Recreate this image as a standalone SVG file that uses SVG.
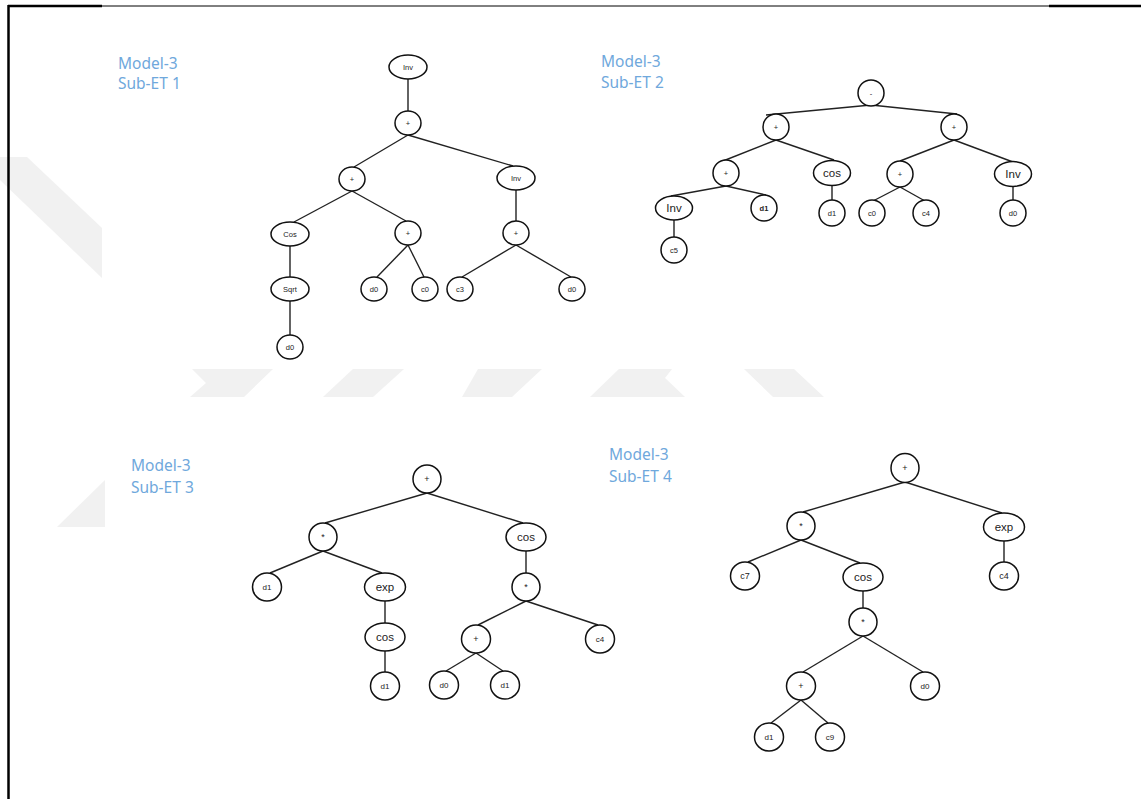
<svg xmlns="http://www.w3.org/2000/svg" width="1141" height="799" viewBox="0 0 1141 799">
<style>
.n{fill:#fff;stroke:#111;stroke-width:1.5}
.e{stroke:#222;stroke-width:1.4;fill:none}
.t{font-family:"Liberation Sans",Arial,sans-serif;fill:#222;text-anchor:middle;dominant-baseline:central}
.s7{font-size:7.5px}.s8{font-size:8px}.s9{font-size:9px}.s11{font-size:11.5px}
.lab{font-family:"Noto Sans","Open Sans",sans-serif;font-size:15.5px;fill:#6fa8dc}
.wm{fill:#f1f1f1}
</style>
<rect width="1141" height="799" fill="#fff"/>
<g id="watermark">
<polygon class="wm" points="0,157 27,157 102,228 102,278 0,180"/>
<polygon class="wm" points="192,369 273,369 244,397 190,397 206,383"/>
<polygon class="wm" points="353,369 404,369 373,397 323,397"/>
<polygon class="wm" points="478,369 542,369 512,397 462,397"/>
<polygon class="wm" points="619,369 672,369 665,378 685,397 590,397"/>
<polygon class="wm" points="744,369 794,369 824,397 773,397"/>
<polygon class="wm" points="105,480 105,527 57,527"/>
</g>
<g id="frame" stroke="#000" fill="none">
<line x1="8" y1="6" x2="1141" y2="6" stroke-width="1"/>
<line x1="8" y1="6" x2="102" y2="6" stroke-width="2.5"/>
<line x1="1049" y1="6" x2="1141" y2="6" stroke-width="2.5"/>
<line x1="8.5" y1="5" x2="8.5" y2="799" stroke-width="2.5"/>
</g>
<g id="labels">
<text class="lab" x="118" y="69">Model-3</text>
<text class="lab" x="118" y="89">Sub-ET 1</text>
<text class="lab" x="601" y="67">Model-3</text>
<text class="lab" x="601" y="88">Sub-ET 2</text>
<text class="lab" x="131" y="471">Model-3</text>
<text class="lab" x="131" y="493">Sub-ET 3</text>
<text class="lab" x="609" y="460">Model-3</text>
<text class="lab" x="609" y="482">Sub-ET 4</text>
</g>
<g id="connectors">
<line class="e" x1="408" y1="79" x2="408" y2="111"/>
<line class="e" x1="408" y1="135" x2="354" y2="167"/>
<line class="e" x1="408" y1="135" x2="513" y2="166"/>
<line class="e" x1="352" y1="191" x2="294" y2="222"/>
<line class="e" x1="352" y1="191" x2="406" y2="221"/>
<line class="e" x1="290" y1="246" x2="290" y2="277"/>
<line class="e" x1="408" y1="245" x2="377" y2="277"/>
<line class="e" x1="408" y1="245" x2="424" y2="277"/>
<line class="e" x1="516" y1="190" x2="516" y2="221"/>
<line class="e" x1="516" y1="245" x2="462" y2="277"/>
<line class="e" x1="516" y1="245" x2="571" y2="277"/>
<line class="e" x1="290" y1="301" x2="290" y2="335"/>

<line class="e" x1="871" y1="105" x2="766" y2="115"/>
<line class="e" x1="871" y1="105" x2="957" y2="114"/>
<line class="e" x1="776" y1="140" x2="723" y2="161"/>
<line class="e" x1="776" y1="140" x2="834" y2="160"/>
<line class="e" x1="954" y1="140" x2="900" y2="161"/>
<line class="e" x1="954" y1="140" x2="1013" y2="162"/>
<line class="e" x1="726" y1="186" x2="671" y2="196"/>
<line class="e" x1="726" y1="186" x2="766" y2="195"/>
<line class="e" x1="832" y1="186" x2="832" y2="201"/>
<line class="e" x1="900" y1="187" x2="873" y2="201"/>
<line class="e" x1="900" y1="187" x2="925" y2="201"/>
<line class="e" x1="1013" y1="187" x2="1013" y2="201"/>
<line class="e" x1="674" y1="220" x2="674" y2="237"/>

<line class="e" x1="427" y1="493" x2="325" y2="523"/>
<line class="e" x1="427" y1="493" x2="523" y2="523"/>
<line class="e" x1="323" y1="551" x2="270" y2="573"/>
<line class="e" x1="323" y1="551" x2="382" y2="573"/>
<line class="e" x1="385" y1="601" x2="385" y2="623"/>
<line class="e" x1="526" y1="551" x2="526" y2="573"/>
<line class="e" x1="526" y1="601" x2="478" y2="625"/>
<line class="e" x1="526" y1="601" x2="598" y2="625"/>
<line class="e" x1="385" y1="651" x2="385" y2="672"/>
<line class="e" x1="476" y1="653" x2="446" y2="671"/>
<line class="e" x1="476" y1="653" x2="503" y2="671"/>

<line class="e" x1="905" y1="482" x2="803" y2="512"/>
<line class="e" x1="905" y1="482" x2="1002" y2="513"/>
<line class="e" x1="801" y1="540" x2="748" y2="562"/>
<line class="e" x1="801" y1="540" x2="860" y2="563"/>
<line class="e" x1="1004" y1="541" x2="1004" y2="562"/>
<line class="e" x1="863" y1="591" x2="863" y2="608"/>
<line class="e" x1="863" y1="636" x2="803" y2="672"/>
<line class="e" x1="863" y1="636" x2="923" y2="672"/>
<line class="e" x1="801" y1="700" x2="771" y2="723"/>
<line class="e" x1="801" y1="700" x2="828" y2="723"/>
</g>

<g id="t1_inv"><ellipse class="n" cx="408" cy="67" rx="19" ry="12"/><text class="t s7" x="408" y="67">Inv</text></g>
<g id="t1_plus1"><ellipse class="n" cx="408" cy="123" rx="13" ry="12"/><text class="t s7" x="408" y="123">+</text></g>
<g id="t1_plus2"><ellipse class="n" cx="352" cy="179" rx="13" ry="12"/><text class="t s7" x="352" y="179">+</text></g>
<g id="t1_inv2"><ellipse class="n" cx="516" cy="178" rx="19" ry="12"/><text class="t s7" x="516" y="178">Inv</text></g>
<g id="t1_cos"><ellipse class="n" cx="290" cy="234" rx="19" ry="12"/><text class="t s7" x="290" y="234">Cos</text></g>
<g id="t1_plus3"><ellipse class="n" cx="408" cy="233" rx="13" ry="12"/><text class="t s7" x="408" y="233">+</text></g>
<g id="t1_plus4"><ellipse class="n" cx="516" cy="233" rx="13" ry="12"/><text class="t s7" x="516" y="233">+</text></g>
<g id="t1_sqrt"><ellipse class="n" cx="290" cy="289" rx="19" ry="12"/><text class="t s7" x="290" y="289">Sqrt</text></g>
<g id="t1_d0a"><ellipse class="n" cx="374" cy="289" rx="13" ry="12"/><text class="t s7" x="374" y="289">d0</text></g>
<g id="t1_c0"><ellipse class="n" cx="425" cy="289" rx="13" ry="12"/><text class="t s7" x="425" y="289">c0</text></g>
<g id="t1_c3"><ellipse class="n" cx="460" cy="289" rx="13" ry="12"/><text class="t s7" x="460" y="289">c3</text></g>
<g id="t1_d0b"><ellipse class="n" cx="572" cy="289" rx="13" ry="12"/><text class="t s7" x="572" y="289">d0</text></g>
<g id="t1_d0c"><ellipse class="n" cx="290" cy="347" rx="13" ry="12"/><text class="t s7" x="290" y="347">d0</text></g>

<g id="t2_minus"><ellipse class="n" cx="871" cy="93" rx="13" ry="13"/><text class="t s7" x="871" y="93">-</text></g>
<g id="t2_plusL"><ellipse class="n" cx="776" cy="127" rx="13" ry="13"/><text class="t s7" x="776" y="127">+</text></g>
<g id="t2_plusR"><ellipse class="n" cx="954" cy="127" rx="13" ry="13"/><text class="t s7" x="954" y="127">+</text></g>
<g id="t2_plus3"><ellipse class="n" cx="726" cy="173" rx="13" ry="13"/><text class="t s7" x="726" y="173">+</text></g>
<g id="t2_cos"><ellipse class="n" cx="832" cy="173" rx="18.5" ry="12.5"/><text class="t s11" x="832" y="173">cos</text></g>
<g id="t2_plus4"><ellipse class="n" cx="900" cy="174" rx="13" ry="13"/><text class="t s7" x="900" y="174">+</text></g>
<g id="t2_inv"><ellipse class="n" cx="1013" cy="174" rx="18.5" ry="12.5"/><text class="t s11" x="1013" y="174">Inv</text></g>
<g id="t2_inv2"><ellipse class="n" cx="674" cy="208" rx="18.5" ry="12"/><text class="t s11" x="674" y="208">Inv</text></g>
<g id="t2_d1a"><ellipse class="n" cx="764" cy="208" rx="13" ry="13"/><text class="t s7" x="764" y="208" font-weight="bold">d1</text></g>
<g id="t2_d1b"><ellipse class="n" cx="832" cy="213" rx="13" ry="13"/><text class="t s7" x="832" y="213">d1</text></g>
<g id="t2_c0"><ellipse class="n" cx="872" cy="213" rx="13" ry="13"/><text class="t s7" x="872" y="213">c0</text></g>
<g id="t2_c4"><ellipse class="n" cx="926" cy="213" rx="13" ry="13"/><text class="t s7" x="926" y="213">c4</text></g>
<g id="t2_d0"><ellipse class="n" cx="1013" cy="213" rx="13" ry="13"/><text class="t s7" x="1013" y="213">d0</text></g>
<g id="t2_c5"><ellipse class="n" cx="674" cy="250" rx="13" ry="13"/><text class="t s7" x="674" y="250">c5</text></g>

<g id="t3_plus"><ellipse class="n" cx="427" cy="479" rx="14" ry="14"/><text class="t s9" x="427" y="479">+</text></g>
<g id="t3_mul"><ellipse class="n" cx="323" cy="537" rx="14" ry="14"/><text class="t s9" x="323" y="537">*</text></g>
<g id="t3_cos"><ellipse class="n" cx="526" cy="537" rx="20" ry="14"/><text class="t s11" x="526" y="537">cos</text></g>
<g id="t3_d1"><ellipse class="n" cx="267" cy="587" rx="14.5" ry="14"/><text class="t s8" x="267" y="587">d1</text></g>
<g id="t3_exp"><ellipse class="n" cx="385" cy="587" rx="20.5" ry="14"/><text class="t s11" x="385" y="587">exp</text></g>
<g id="t3_mul2"><ellipse class="n" cx="526" cy="587" rx="14" ry="14"/><text class="t s9" x="526" y="587">*</text></g>
<g id="t3_cos2"><ellipse class="n" cx="385" cy="637" rx="20" ry="14"/><text class="t s11" x="385" y="637">cos</text></g>
<g id="t3_plus2"><ellipse class="n" cx="476" cy="639" rx="14.5" ry="14"/><text class="t s9" x="476" y="639">+</text></g>
<g id="t3_c4"><ellipse class="n" cx="600" cy="639" rx="14.5" ry="14"/><text class="t s8" x="600" y="639">c4</text></g>
<g id="t3_d1b"><ellipse class="n" cx="385" cy="686" rx="14.5" ry="14"/><text class="t s8" x="385" y="686">d1</text></g>
<g id="t3_d0"><ellipse class="n" cx="444" cy="685" rx="14.5" ry="14"/><text class="t s8" x="444" y="685">d0</text></g>
<g id="t3_d1c"><ellipse class="n" cx="505" cy="685" rx="14.5" ry="14"/><text class="t s8" x="505" y="685">d1</text></g>

<g id="t4_plus"><ellipse class="n" cx="905" cy="468" rx="14" ry="14.5"/><text class="t s9" x="905" y="468">+</text></g>
<g id="t4_mul"><ellipse class="n" cx="801" cy="526" rx="14" ry="14"/><text class="t s9" x="801" y="526">*</text></g>
<g id="t4_exp"><ellipse class="n" cx="1004" cy="527" rx="20.5" ry="14"/><text class="t s11" x="1004" y="527">exp</text></g>
<g id="t4_c7"><ellipse class="n" cx="745" cy="576" rx="14.5" ry="14"/><text class="t s9" x="745" y="576">c7</text></g>
<g id="t4_cos"><ellipse class="n" cx="863" cy="577" rx="20" ry="14"/><text class="t s11" x="863" y="577">cos</text></g>
<g id="t4_c4"><ellipse class="n" cx="1004" cy="576" rx="14.5" ry="14"/><text class="t s9" x="1004" y="576">c4</text></g>
<g id="t4_mul2"><ellipse class="n" cx="863" cy="622" rx="14" ry="14"/><text class="t s9" x="863" y="622">*</text></g>
<g id="t4_plus2"><ellipse class="n" cx="801" cy="686" rx="14.5" ry="14"/><text class="t s9" x="801" y="686">+</text></g>
<g id="t4_d0"><ellipse class="n" cx="925" cy="686" rx="14.5" ry="14"/><text class="t s8" x="925" y="686">d0</text></g>
<g id="t4_d1"><ellipse class="n" cx="769" cy="737" rx="14.5" ry="14"/><text class="t s8" x="769" y="737">d1</text></g>
<g id="t4_c9"><ellipse class="n" cx="830" cy="737" rx="14.5" ry="14"/><text class="t s8" x="830" y="737">c9</text></g>
</svg>
